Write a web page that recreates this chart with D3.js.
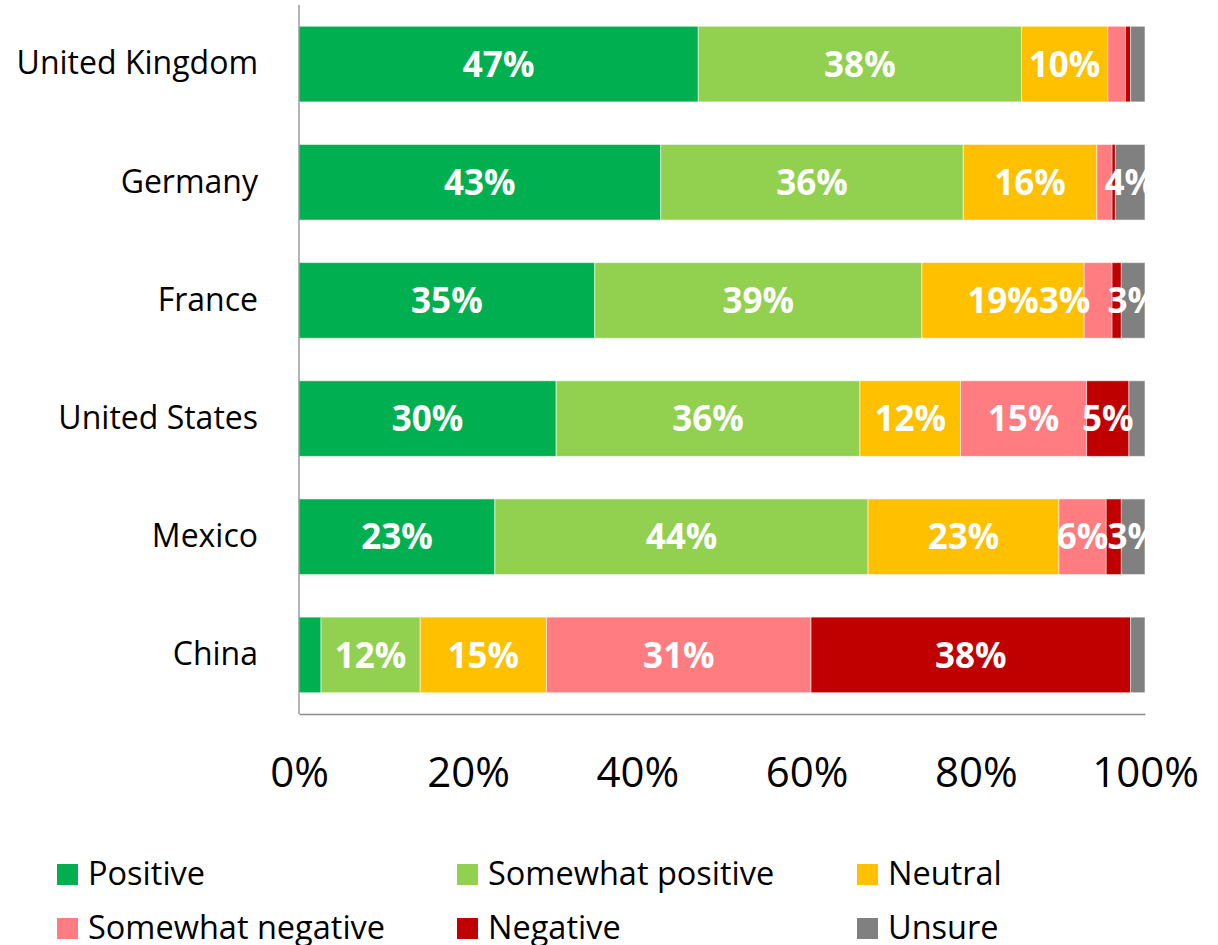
<!DOCTYPE html>
<html>
<head>
<meta charset="utf-8">
<script src="https://cdn.jsdelivr.net/npm/d3@7"></script>
<style>
  html, body { margin: 0; padding: 0; background: #fff; }
  svg { display: block; font-family: 'Open Sans', sans-serif; }
</style>
</head>
<body>
<div id="container"></div>
<script>
const $ = (...args) => document.querySelector(...args);

// data (share of respondents, %)
const countries = ['United Kingdom', 'Germany', 'France', 'United States', 'Mexico', 'China'];
const series = ['Positive', 'Somewhat positive', 'Neutral', 'Somewhat negative', 'Negative', 'Unsure'];
const colors = ['#00B050', '#92D050', '#FFC000', '#FF7C80', '#C00000', '#808080'];
const positive         = [47.2, 42.8, 35.0, 30.4, 23.2, 2.6];
const somewhatPositive = [38.2, 35.8, 38.7, 35.9, 44.2, 11.7];
const neutral          = [10.2, 15.8, 19.2, 11.9, 22.6, 14.9];
const somewhatNegative = [2.1, 1.8, 3.3, 14.9, 5.6, 31.2];
const negative         = [0.6, 0.4, 1.1, 5.0, 1.8, 37.7];
const unsure           = [1.7, 3.5, 2.8, 1.9, 2.8, 1.7];
const xTicks = [0, 0.2, 0.4, 0.6, 0.8, 1];
const labelMin = 2.7;

const W = 1218, H = 945;
const m = { left: 299, right: 73, top: 5, bottom: 231 };

const table = countries.map((c, i) => ({
    country: c,
    'Positive': positive[i],
    'Somewhat positive': somewhatPositive[i],
    'Neutral': neutral[i],
    'Somewhat negative': somewhatNegative[i],
    'Negative': negative[i],
    'Unsure': unsure[i]
}));

const stacked = d3.stack().keys(series).offset(d3.stackOffsetExpand)(table);

const x = d3.scaleLinear().domain([0, 1]).range([m.left, W - m.right]);
const y = d3.scaleBand().domain(countries).range([m.top, H - m.bottom]).paddingInner(0.36).paddingOuter(0.18);
const color = d3.scaleOrdinal().domain(series).range(colors);

const svg = d3.select($('#container')).append('svg')
    .attr('width', W).attr('height', H)
    .attr('viewBox', [0, 0, W, H]);

svg.append('clipPath').attr('id', 'plot-clip')
    .append('rect')
    .attr('x', m.left).attr('y', 0)
    .attr('width', x(1) - m.left + 1).attr('height', H - m.bottom);

// bars
const layers = svg.append('g').selectAll('g')
    .data(stacked)
    .join('g')
    .attr('fill', d => color(d.key));

layers.selectAll('rect')
    .data(d => d)
    .join('rect')
    .attr('x', d => x(d[0]))
    .attr('y', d => y(d.data.country))
    .attr('width', d => x(d[1]) - x(d[0]))
    .attr('height', y.bandwidth())
    .attr('stroke', '#fff')
    .attr('stroke-opacity', 0.55)
    .attr('stroke-width', 1);

// value labels, centred in their segment
const labels = svg.append('g').attr('clip-path', 'url(#plot-clip)');
const rows = {};
stacked.forEach(layer => {
    labels.selectAll(null)
        .data(layer.filter(d => d.data[layer.key] >= labelMin))
        .join('text')
        .attr('x', d => (x(d[0]) + x(d[1])) / 2)
        .attr('y', d => y(d.data.country) + y.bandwidth() / 2)
        .attr('dy', '0.36em')
        .attr('text-anchor', 'middle')
        .attr('fill', '#fff')
        .attr('font-weight', 700)
        .attr('font-size', 35)
        .text(d => Math.round(d.data[layer.key]) + '%')
        .each(function(d) {
            (rows[d.data.country] = rows[d.data.country] || []).push(this);
        });
});

// a label that clearly runs into the next one gets pushed against the previous one
const box = n => { const b = n.getBBox(); return [b.x, b.x + b.width]; };
Object.values(rows).forEach(row => {
    for (let i = 1; i < row.length - 1; i++) {
        const [l, r] = box(row[i]);
        const [nl] = box(row[i + 1]);
        if (r - nl > 9) {
            const [, pr] = box(row[i - 1]);
            d3.select(row[i]).attr('x', pr + (r - l) / 2);
        }
    }
});

// axes
const yAxis = svg.append('g')
    .attr('transform', `translate(${m.left},0)`)
    .call(d3.axisLeft(y).tickSize(0).tickPadding(41));
yAxis.select('.domain').attr('stroke', '#8c8c8c').attr('stroke-width', 1.3)
    .attr('d', `M0,${m.top}V${H - m.bottom}`);
yAxis.selectAll('text')
    .attr('font-family', "'Open Sans', sans-serif")
    .attr('font-size', 32)
    .attr('fill', '#000');

const xAxis = svg.append('g')
    .attr('transform', `translate(0,${H - m.bottom})`)
    .call(d3.axisBottom(x).tickValues(xTicks).tickFormat(d3.format('.0%')).tickSize(0).tickPadding(43));
xAxis.select('.domain').attr('stroke', '#8c8c8c').attr('stroke-width', 1.3);
xAxis.selectAll('text')
    .attr('font-family', "'Open Sans', sans-serif")
    .attr('font-size', 42)
    .attr('fill', '#000');

// legend
const legend = svg.append('g')
    .selectAll('g')
    .data(series)
    .join('g')
    .attr('transform', (d, i) => `translate(${57 + (i % 3) * 400},${864 + Math.floor(i / 3) * 54})`);

legend.append('rect')
    .attr('width', 21).attr('height', 21)
    .attr('fill', d => color(d));

legend.append('text')
    .attr('x', 31)
    .attr('y', 21)
    .attr('font-size', 32.5)
    .attr('fill', '#000')
    .text(d => d);
</script>
</body>
</html>
